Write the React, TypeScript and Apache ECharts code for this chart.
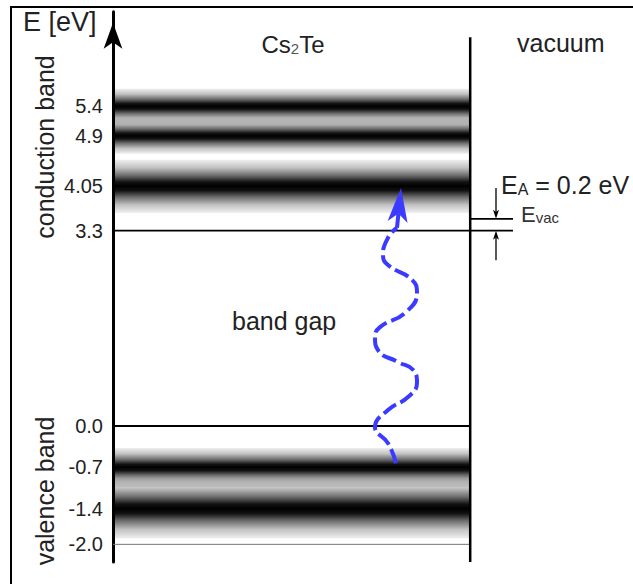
import React, { useEffect, useRef } from 'react';
import * as echarts from 'echarts';

// ---- energy scale (eV) ----
const tickValues = [5.4, 4.9, 4.05, 3.3, 0.0, -0.7, -1.4, -2.0];
const tickLabels = ['5.4', '4.9', '4.05', '3.3', '0.0', '-0.7', '-1.4', '-2.0'];

// band levels and their spread (eV)
const conductionBandLevels = [5.4, 4.9, 4.05];
const conductionBandSpreads = [0.3, 0.3, 0.45];
const valenceBandLevels = [-0.7, -1.4];
const valenceBandSpreads = [0.33, 0.5];

const conductionBandMinimum = 3.3;
const valenceBandMaximum = 0.0;
const valenceBandBottom = -2.0;
const electronAffinity = 0.2;
const vacuumLevel = conductionBandMinimum + electronAffinity;

// horizontal position scale 0..100 across the diagram
const surfaceX = 89.3;
const vacuumEndX = 100;
const affinityArrowX = 95.75;
const axisMaxE = 7.0;
const axisMinE = -2.3;
const surfaceTopE = 6.57;

// photon (wavy arrow) path: [x, E]
const photonPath: [number, number][] = [
  [70.75, -0.63],
  [68.75, -0.29],
  [65.5, -0.02],
  [68.75, 0.27],
  [73.75, 0.49],
  [76, 0.73],
  [75, 0.95],
  [71.25, 1.08],
  [66.25, 1.28],
  [65.5, 1.5],
  [66.75, 1.67],
  [73, 1.91],
  [76, 2.25],
  [74.75, 2.47],
  [68.75, 2.72],
  [67.5, 2.89],
  [68.75, 3.18],
  [71, 3.35],
];
// arrow: [tailX, tailE, tipX, tipE]
const photonHead: number[][] = [[71, 3.35, 72, 4.02]];
const affinityArrows: number[][] = [
  [affinityArrowX, 4.02, affinityArrowX, vacuumLevel],
  [affinityArrowX, 2.8, affinityArrowX, conductionBandMinimum],
];

const FONT = '"Liberation Sans", Arial, Helvetica, sans-serif';

function bandData() {
  const d: number[][] = [];
  conductionBandLevels.forEach((c, i) => d.push([c, conductionBandSpreads[i]]));
  valenceBandLevels.forEach((c, i) => d.push([c, valenceBandSpreads[i]]));
  return d;
}

function arrowRenderer(color: string, lineWidth: number, headLen: number, headW: number) {
  return (params: any, api: any) => {
    const a = api.coord([api.value(0), api.value(1)]);
    const b = api.coord([api.value(2), api.value(3)]);
    const dx = b[0] - a[0];
    const dy = b[1] - a[1];
    const len = Math.hypot(dx, dy) || 1;
    const ux = dx / len;
    const uy = dy / len;
    const px = -uy;
    const py = ux;
    const base = [b[0] - ux * headLen, b[1] - uy * headLen];
    const notch = [b[0] - ux * headLen * 0.75, b[1] - uy * headLen * 0.75];
    const hw = headW / 2;
    return {
      type: 'group',
      children: [
        {
          type: 'line',
          shape: { x1: a[0], y1: a[1], x2: notch[0], y2: notch[1] },
          style: { stroke: color, lineWidth },
        },
        {
          type: 'polygon',
          shape: {
            points: [
              [b[0], b[1]],
              [base[0] + px * hw, base[1] + py * hw],
              [notch[0], notch[1]],
              [base[0] - px * hw, base[1] - py * hw],
            ],
          },
          style: { fill: color },
        },
      ],
    };
  };
}

function hLine(y: number, x0: number, x1: number, color: string, width: number) {
  return {
    type: 'line',
    data: [
      [x0, y],
      [x1, y],
    ],
    symbol: 'none',
    clip: false,
    silent: true,
    lineStyle: { color, width },
    z: 3,
  };
}

export default function App() {
  const ref = useRef<HTMLDivElement>(null);
  useEffect(() => {
    if (!ref.current) return;
    const chart = echarts.init(ref.current, null, { renderer: 'svg' });
    const option: any = {
      animation: false,
      textStyle: { fontFamily: FONT },
      grid: { left: 113, top: 11.7, width: 400, height: 550.4, containLabel: false },
      xAxis: { type: 'value', min: 0, max: 100, show: false },
      yAxis: {
        type: 'value',
        min: axisMinE,
        max: axisMaxE,
        splitLine: { show: false },
        axisTick: { show: false },
        axisLine: {
          show: true,
          onZero: false,
          lineStyle: { color: '#000', width: 3 },
          symbol: ['none', 'arrow'],
          symbolSize: [14, 26],
          symbolOffset: [0, -11],
        },
        axisLabel: {
          customValues: tickValues,
          formatter: (v: number) => {
            const i = tickValues.findIndex((t) => Math.abs(t - v) < 1e-6);
            return i >= 0 ? tickLabels[i] : '';
          },
          fontSize: 20,
          color: '#222',
          margin: 10,
          fontFamily: FONT,
        },
      },
      series: [
        {
          type: 'custom',
          silent: true,
          z: 1,
          data: bandData(),
          encode: { x: -1, y: 0 },
          renderItem: (params: any, api: any) => {
            const c = api.value(0);
            const s = api.value(1);
            const p1 = api.coord([0, c + s]);
            const p2 = api.coord([surfaceX, c - s]);
            return {
              type: 'rect',
              shape: { x: p1[0], y: p1[1], width: p2[0] - p1[0], height: p2[1] - p1[1] },
              style: {
                fill: {
                  type: 'linear',
                  x: 0,
                  y: 0,
                  x2: 0,
                  y2: 1,
                  colorStops: [
                    { offset: 0, color: 'rgba(0,0,0,0.06)' },
                    { offset: 0.15, color: 'rgba(0,0,0,0.24)' },
                    { offset: 0.3, color: 'rgba(0,0,0,0.58)' },
                    { offset: 0.42, color: 'rgba(0,0,0,0.93)' },
                    { offset: 0.5, color: 'rgba(0,0,0,1)' },
                    { offset: 0.58, color: 'rgba(0,0,0,0.93)' },
                    { offset: 0.7, color: 'rgba(0,0,0,0.58)' },
                    { offset: 0.85, color: 'rgba(0,0,0,0.24)' },
                    { offset: 1, color: 'rgba(0,0,0,0.06)' },
                  ],
                },
              },
            };
          },
        },
        hLine(conductionBandMinimum, 0, vacuumEndX, '#000', 1.8),
        hLine(valenceBandMaximum, 0, surfaceX, '#000', 1.8),
        hLine(valenceBandBottom, 0, surfaceX, '#777', 1),
        hLine(vacuumLevel, surfaceX, vacuumEndX, '#000', 1.8),
        {
          type: 'line',
          data: [
            [surfaceX, axisMinE],
            [surfaceX, surfaceTopE],
          ],
          symbol: 'none',
          clip: false,
          silent: true,
          lineStyle: { color: '#000', width: 2.5 },
          z: 3,
        },
        {
          type: 'line',
          data: photonPath,
          smooth: 0.5,
          symbol: 'none',
          clip: false,
          silent: true,
          lineStyle: { color: '#3b3bff', width: 4, type: [15, 5], cap: 'butt' },
          z: 5,
        },
        {
          type: 'custom',
          silent: true,
          z: 6,
          data: photonHead,
          encode: { x: [0, 2], y: [1, 3] },
          renderItem: arrowRenderer('#3b3bff', 4, 34, 20),
        },
        {
          type: 'custom',
          silent: true,
          z: 6,
          data: affinityArrows,
          encode: { x: [0, 2], y: [1, 3] },
          renderItem: arrowRenderer('#000', 1.3, 9, 6),
        },
      ],
      graphic: [
        {
          type: 'polyline',
          silent: true,
          shape: { points: [[11, 700], [11, 7], [700, 7]] },
          style: { stroke: '#000', lineWidth: 2, fill: null },
        },
        {
          type: 'text',
          x: 23,
          y: 22,
          style: {
            text: 'E [eV]',
            fontSize: 27,
            fontFamily: FONT,
            fill: '#222',
            align: 'left',
            verticalAlign: 'middle',
            textAlign: 'left',
            textVerticalAlign: 'middle',
          },
        },
        {
          type: 'text',
          x: 293,
          y: 44,
          style: {
            text: '{a|Cs}{s|2}{a|Te}',
            fontFamily: FONT,
            fill: '#222',
            align: 'center',
            verticalAlign: 'middle',
            textAlign: 'center',
            textVerticalAlign: 'middle',
            rich: {
              a: { fontSize: 24, fontFamily: FONT, fill: '#222', color: '#222', verticalAlign: 'bottom', lineHeight: 24 },
              s: { fontSize: 15, fontFamily: FONT, fill: '#555', color: '#555', verticalAlign: 'bottom', lineHeight: 15 },
            },
          },
        },
        {
          type: 'text',
          x: 517,
          y: 43,
          style: {
            text: 'vacuum',
            fontSize: 25,
            fontFamily: FONT,
            fill: '#222',
            align: 'left',
            verticalAlign: 'middle',
            textAlign: 'left',
            textVerticalAlign: 'middle',
          },
        },
        {
          type: 'text',
          x: 232,
          y: 321,
          style: {
            text: 'band gap',
            fontSize: 25,
            fontFamily: FONT,
            fill: '#222',
            align: 'left',
            verticalAlign: 'middle',
            textAlign: 'left',
            textVerticalAlign: 'middle',
          },
        },
        {
          type: 'text',
          x: 44.5,
          y: 147,
          rotation: Math.PI / 2,
          style: {
            text: 'conduction band',
            fontSize: 25,
            fontFamily: FONT,
            fill: '#222',
            align: 'center',
            verticalAlign: 'middle',
            textAlign: 'center',
            textVerticalAlign: 'middle',
          },
        },
        {
          type: 'text',
          x: 44.5,
          y: 491,
          rotation: Math.PI / 2,
          style: {
            text: 'valence band',
            fontSize: 25,
            fontFamily: FONT,
            fill: '#222',
            align: 'center',
            verticalAlign: 'middle',
            textAlign: 'center',
            textVerticalAlign: 'middle',
          },
        },
        {
          type: 'text',
          x: 501,
          y: 185,
          style: {
            text: '{a|E}{s|A}{a| = 0.2 eV}',
            fontFamily: FONT,
            fill: '#222',
            align: 'left',
            verticalAlign: 'middle',
            textAlign: 'left',
            textVerticalAlign: 'middle',
            rich: {
              a: { fontSize: 25, fontFamily: FONT, fill: '#222', color: '#222', verticalAlign: 'bottom', lineHeight: 25 },
              s: { fontSize: 16, fontFamily: FONT, fill: '#222', color: '#222', verticalAlign: 'bottom', lineHeight: 16 },
            },
          },
        },
        {
          type: 'text',
          x: 521,
          y: 214,
          style: {
            text: '{a|E}{s|vac}',
            fontFamily: FONT,
            fill: '#333',
            align: 'left',
            verticalAlign: 'middle',
            textAlign: 'left',
            textVerticalAlign: 'middle',
            rich: {
              a: { fontSize: 22, fontFamily: FONT, fill: '#333', color: '#333', verticalAlign: 'bottom', lineHeight: 22 },
              s: { fontSize: 15, fontFamily: FONT, fill: '#333', color: '#333', verticalAlign: 'bottom', lineHeight: 15 },
            },
          },
        },
      ],
    };
    chart.setOption(option);
    return () => chart.dispose();
  }, []);
  return (
    <div
      ref={ref}
      style={{ position: 'absolute', left: 0, top: 0, width: 633, height: 584, background: '#fff' }}
    />
  );
}
